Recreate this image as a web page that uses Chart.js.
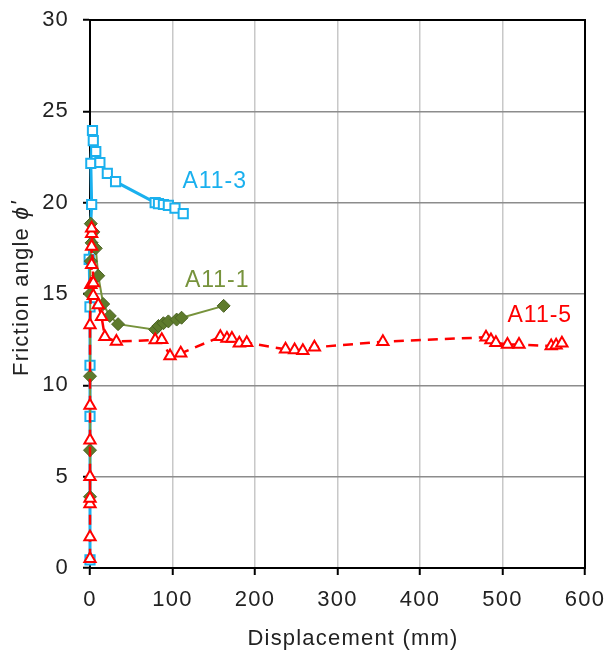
<!DOCTYPE html>
<html>
<head>
<meta charset="utf-8">
<script src="https://cdn.jsdelivr.net/npm/chart.js@4/dist/chart.umd.min.js"></script>
<style>
  html, body { margin: 0; padding: 0; background: #fff; }
  #wrap { width: 608px; height: 651px; }
</style>
</head>
<body>
<div id="wrap"><canvas id="chart" width="608" height="651"></canvas></div>
<script>
// A11-3 test
const dispA113 = [0, 0, 0, 0, -1, 2, 1, 3, 4, 7, 12, 21, 31, 79, 83, 89, 95, 103, 113];
const phiA113 = [0.45, 8.3, 11.1, 14.3, 16.9, 19.9, 22.15, 23.95, 23.4, 22.8, 22.2, 21.6, 21.15, 20.0, 19.95, 19.9, 19.85, 19.7, 19.4];

// A11-1 test
const dispA111 = [0, 0, 0, 0, 1, 2, 1, 4, 7, 10, 16, 24, 34, 79, 83, 89, 95, 105, 111, 162];
const phiA111 = [3.9, 6.45, 10.5, 15.0, 16.8, 17.8, 18.85, 18.4, 17.5, 16.0, 14.45, 13.8, 13.35, 13.05, 13.25, 13.4, 13.5, 13.6, 13.7, 14.35];

// A11-5 test
const dispA115 = [0, 0, 0, 0, 0, 0, 0, 0, 1, 2, 2, 2, 2, 4, 4, 10, 14, 18, 32, 79, 87, 97, 110, 158, 166, 172, 181, 190, 237, 248, 258, 272, 355, 480, 486, 492, 506, 520, 559, 565, 572];
const phiA115 = [0.5, 1.7, 3.5, 3.8, 5.0, 7.0, 8.9, 13.3, 15.5, 16.6, 17.6, 18.3, 18.6, 15.6, 14.9, 14.4, 13.75, 12.66, 12.4, 12.48, 12.5, 11.6, 11.75, 12.66, 12.57, 12.57, 12.3, 12.33, 11.97, 11.93, 11.9, 12.08, 12.39, 12.63, 12.48, 12.33, 12.24, 12.24, 12.15, 12.2, 12.3];

const xTicks = [0, 100, 200, 300, 400, 500, 600];
const yTicks = [0, 5, 10, 15, 20, 25, 30];

// series name tags, placed in data units
const seriesTags = [
  { text: "A11-3", x: 112, y: 20.8, color: "#1AB0EE" },
  { text: "A11-1", x: 115, y: 15.4, color: "#77933C" },
  { text: "A11-5", x: 506, y: 13.48, color: "#FF0000" }
];

const FONT = "'Liberation Sans', Arial, sans-serif";

function toPoints(xs, ys) {
  return xs.map((x, i) => ({ x: x, y: ys[i] }));
}

// fixed axis boxes, no extra room for overhanging end labels
function fixBox(prop, size) {
  return s => {
    s[prop] = size;
    s.paddingLeft = s.paddingRight = s.paddingTop = s.paddingBottom = 0;
  };
}

const frameAndText = {
  id: "frameAndText",
  beforeLayout(chart) {
    chart.ctx.letterSpacing = "1.2px";
  },
  beforeDatasetsDraw(chart) {
    const { ctx, chartArea: a } = chart;
    ctx.save();
    ctx.strokeStyle = "#000";
    ctx.lineWidth = 2;
    ctx.strokeRect(a.left, a.top, a.right - a.left, a.bottom - a.top);
    ctx.restore();
  },
  afterDraw(chart) {
    const { ctx, scales } = chart;
    ctx.save();
    ctx.letterSpacing = "1px";
    ctx.textBaseline = "alphabetic";

    // series names
    ctx.font = "23px " + FONT;
    ctx.textAlign = "left";
    seriesTags.forEach(t => {
      ctx.fillStyle = t.color;
      ctx.fillText(t.text, scales.x.getPixelForValue(t.x), scales.y.getPixelForValue(t.y));
    });

    // x axis title
    ctx.letterSpacing = "1.2px";
    ctx.fillStyle = "#222";
    ctx.font = "22px " + FONT;
    ctx.textAlign = "center";
    ctx.fillText("Displacement (mm)", 353, 645);

    // y axis title, with an italic phi
    const plain = "Friction angle ";
    const ital = "\u03D5'";
    ctx.font = "22px " + FONT;
    const w1 = ctx.measureText(plain).width;
    ctx.font = "italic 23px " + FONT;
    const w2 = ctx.measureText(ital).width;
    ctx.translate(28, 288 + (w1 + w2) / 2);
    ctx.rotate(-Math.PI / 2);
    ctx.textAlign = "left";
    ctx.font = "22px " + FONT;
    ctx.fillText(plain, 0, 0);
    ctx.font = "italic 23px " + FONT;
    ctx.fillText(ital, w1, 0);
    ctx.restore();
  }
};

new Chart(document.getElementById("chart"), {
  type: "scatter",
  data: {
    datasets: [
      {
        label: "A11-5",
        data: toPoints(dispA115, phiA115),
        showLine: true,
        borderColor: "#FF0000",
        borderWidth: 2.5,
        borderDash: [10, 7],
        pointStyle: "triangle",
        pointRadius: 6.5,
        pointBackgroundColor: "#fff",
        pointBorderColor: "#FF0000",
        pointBorderWidth: 2,
        clip: false
      },
      {
        label: "A11-1",
        data: toPoints(dispA111, phiA111),
        showLine: true,
        borderColor: "#77933C",
        borderWidth: 2,
        pointStyle: "rectRot",
        pointRadius: 6.5,
        pointBackgroundColor: "#5E7B2C",
        pointBorderColor: "#4A6223",
        pointBorderWidth: 1,
        clip: false
      },
      {
        label: "A11-3",
        data: toPoints(dispA113, phiA113),
        showLine: true,
        borderColor: "#1AB0EE",
        borderWidth: 3,
        pointStyle: "rect",
        pointRadius: 6.5,
        pointBackgroundColor: "#fff",
        pointBorderColor: "#1AB0EE",
        pointBorderWidth: 2,
        clip: false
      }
    ]
  },
  options: {
    responsive: false,
    animation: false,
    layout: { padding: { top: 20, right: 23, left: 0, bottom: 0 } },
    plugins: {
      legend: { display: false },
      tooltip: { enabled: false }
    },
    scales: {
      x: {
        type: "linear",
        min: 0,
        max: 600,
        afterBuildTicks: s => { s.ticks = xTicks.map(v => ({ value: v })); },
        afterFit: fixBox("height", 83),
        ticks: { color: "#222", font: { family: FONT, size: 22 }, padding: 12, maxRotation: 0 },
        grid: { color: "#C8C8C8", lineWidth: 1.5, tickColor: "#000", tickLength: 7, tickWidth: 2 },
        border: { color: "#000", width: 2 }
      },
      y: {
        min: 0,
        max: 30,
        afterBuildTicks: s => { s.ticks = yTicks.map(v => ({ value: v })); },
        afterFit: fixBox("width", 90),
        ticks: { color: "#222", font: { family: FONT, size: 22 }, padding: 14 },
        grid: { color: "#8C8C8C", lineWidth: 1.5, tickColor: "#000", tickLength: 7, tickWidth: 2 },
        border: { color: "#000", width: 2 }
      }
    }
  },
  plugins: [frameAndText]
});
</script>
</body>
</html>
